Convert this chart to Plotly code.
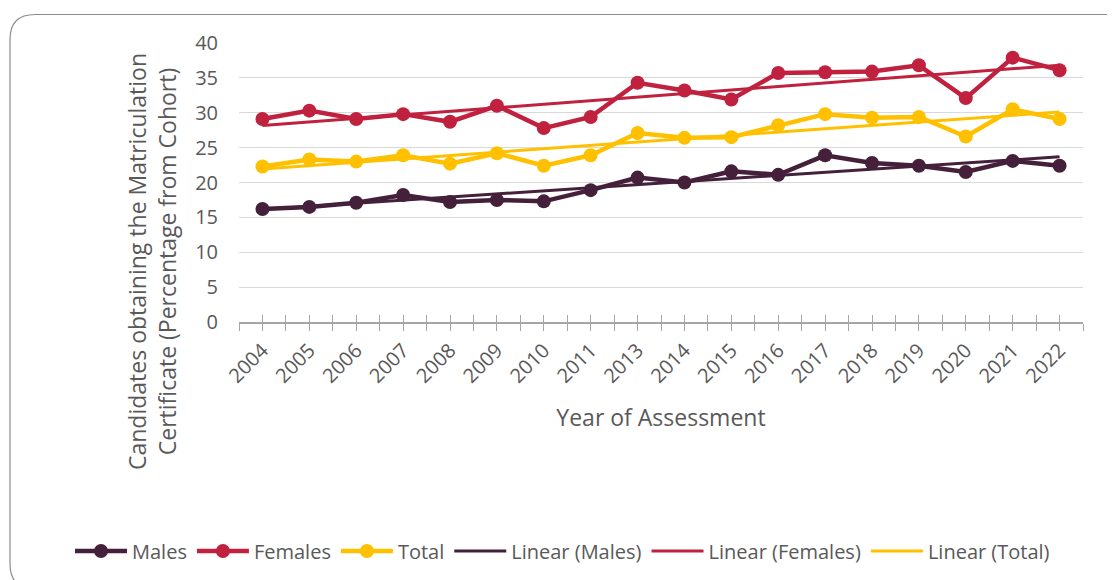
import plotly.graph_objects as go
import numpy as np

years = ["2004", "2005", "2006", "2007", "2008", "2009", "2010", "2011", "2013",
         "2014", "2015", "2016", "2017", "2018", "2019", "2020", "2021", "2022"]
males = [16.2, 16.5, 17.1, 18.2, 17.2, 17.5, 17.3, 18.9, 20.7,
         20.0, 21.6, 21.1, 23.9, 22.8, 22.4, 21.5, 23.1, 22.4]
females = [29.1, 30.3, 29.1, 29.8, 28.7, 31.0, 27.8, 29.4, 34.3,
           33.2, 31.9, 35.7, 35.8, 35.9, 36.8, 32.1, 37.9, 36.1]
total = [22.3, 23.3, 23.0, 23.9, 22.7, 24.2, 22.4, 23.9, 27.1,
         26.4, 26.5, 28.2, 29.8, 29.3, 29.4, 26.6, 30.5, 29.1]

C_M = "#44203A"
C_F = "#C0213F"
C_T = "#FFC000"
FONT = "Open Sans"
GREY = "#595959"

OFF = 8  # default page body margin
W, H = 1115, 580
# desired plot area in screen px
L, R, T, B = 239, 1083, 43, 322

x = np.arange(len(years))
fig = go.Figure()

for name, vals, c in [("Males", males, C_M), ("Females", females, C_F), ("Total", total, C_T)]:
    fig.add_trace(go.Scatter(x=x, y=vals, name=name, mode="lines+markers",
                             line=dict(color=c, width=4.5),
                             marker=dict(color=c, size=14)))
for name, vals, c in [("Males", males, C_M), ("Females", females, C_F), ("Total", total, C_T)]:
    k, b = np.polyfit(x, vals, 1)
    fig.add_trace(go.Scatter(x=x, y=k * x + b, name=f"Linear ({name})", mode="lines",
                             line=dict(color=c, width=3)))

# dummy trace to carry a second x-axis for inward tick marks
fig.add_trace(go.Scatter(x=[0], y=[None], xaxis="x2", showlegend=False, hoverinfo="skip"))

tickvals = [i * 0.5 - 0.5 for i in range(2 * len(years) + 1)]
ticktext = [years[int(v)] if v >= 0 and float(v).is_integer() else "" for v in tickvals]


def px2paper(px, py):
    return (px - L) / (R - L), (B - py) / (B - T)


def P(a, b):
    u, v = px2paper(a, b)
    return f"{u:.5f},{v:.5f}"


# rounded border
x0, y0, x1, y1, r = 10, 14.5, 1131, 589, 25
path = (f"M {P(x0, y0 + r)} Q {P(x0, y0)} {P(x0 + r, y0)} "
        f"L {P(x1 - r, y0)} Q {P(x1, y0)} {P(x1, y0 + r)} "
        f"L {P(x1, y1 - r)} Q {P(x1, y1)} {P(x1 - r, y1)} "
        f"L {P(x0 + r, y1)} Q {P(x0, y1)} {P(x0, y1 - r)} Z")
fig.add_shape(type="path", xref="paper", yref="paper", path=path,
              line=dict(color="#8C8C8C", width=1.2), layer="below")

# y-axis title as annotation (centred like the reference)
tx, ty = px2paper(152, 262)
fig.add_annotation(xref="paper", yref="paper", x=tx, y=ty, xanchor="center", yanchor="middle",
                   text="Candidates obtaining the Matriculation<br>Certificate (Percentage from Cohort)",
                   textangle=-90, showarrow=False, font=dict(size=23, color=GREY, family=FONT))

lx, ly = px2paper(70, 551)

fig.update_layout(
    width=W, height=H,
    margin=dict(l=L - OFF, r=W - R + OFF, t=T - OFF, b=H - B + OFF),
    paper_bgcolor="white", plot_bgcolor="white",
    font=dict(family=FONT, color=GREY, size=18),
    showlegend=True,
    legend=dict(orientation="h", x=lx, y=ly, xanchor="left", yanchor="middle",
                font=dict(size=20, color=GREY), itemwidth=52, tracegroupgap=0),
    xaxis=dict(range=[-0.5, len(years) - 0.5], tickvals=tickvals, ticktext=ticktext,
               tickangle=-45, ticks="outside", ticklen=7, tickcolor="#A6A6A6",
               showline=True, linecolor="#A6A6A6", linewidth=1.5, showgrid=False,
               zeroline=False, tickfont=dict(size=20, color=GREY),
               title=dict(text="Year of Assessment", font=dict(size=23, color=GREY), standoff=22)),
    xaxis2=dict(overlaying="x", range=[-0.5, len(years) - 0.5], tickvals=tickvals,
                showticklabels=False, ticks="inside", ticklen=7, tickcolor="#A6A6A6",
                showline=False, showgrid=False, zeroline=False, side="bottom", anchor="y"),
    yaxis=dict(range=[0, 40], dtick=5, showgrid=True, gridcolor="#D9D9D9", gridwidth=1.2,
               zeroline=False, showline=False, ticklabelstandoff=20,
               tickfont=dict(size=20, color=GREY)),
)

fig.write_html("out.html")
